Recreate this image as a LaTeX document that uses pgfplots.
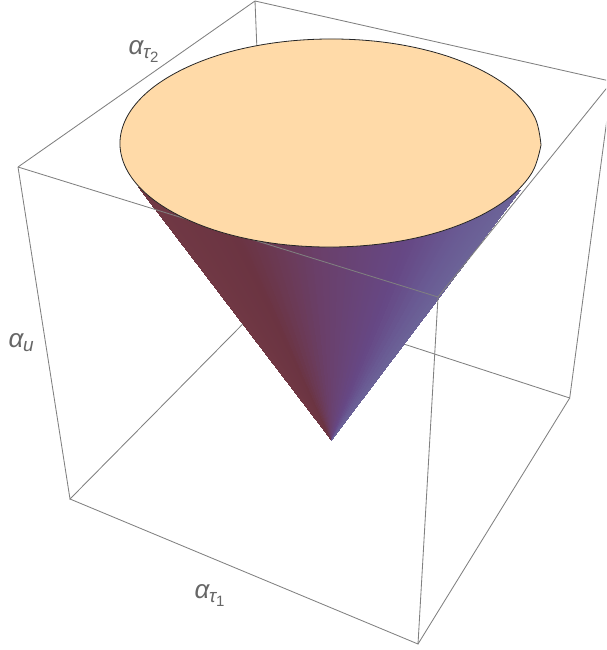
\documentclass[border=0pt]{standalone}
\usepackage{fontspec}
\setmainfont{Liberation Sans}
\usepackage{pgfplots}
\pgfplotsset{compat=1.18}
\definecolor{boxline}{HTML}{808080}
\definecolor{labelc}{HTML}{666666}
\definecolor{disk}{HTML}{FFDAA8}
\newcommand{\lab}[2]{{\fontsize{26}{26}\selectfont\itshape α\kern-0.5pt\raisebox{-4.5pt}{\fontsize{19}{19}\selectfont #1}\ifx&#2&\else\raisebox{-8pt}{\fontsize{15}{15}\selectfont\upshape #2}\fi}}
\begin{document}
\begin{tikzpicture}[x=1pt,y=1pt]
\path[use as bounding box] (0,0) rectangle (606,650);
\begin{axis}[at={(0,0)},anchor=south west,width=606pt,height=650pt,scale only axis,
  xmin=0,xmax=606,ymin=0,ymax=650,y dir=reverse,hide axis,clip=true,
  colormap={cone}{rgb255(0pt)=(112,56,68); rgb255(20pt)=(107,52,66); rgb255(32pt)=(107,58,85); rgb255(45pt)=(106,63,105); rgb255(76pt)=(102,72,133); rgb255(90pt)=(105,90,147); rgb255(100pt)=(108,100,152)},
  point meta min=0,point meta max=100]
% box edges behind the cone
\addplot[boxline,line width=0.85pt,mark=none] coordinates {(18,167) (255,1) (612,81.5) (569.7,398) (267,299.5) (255,1)};
\addplot[boxline,line width=0.85pt,mark=none] coordinates {(18,167) (70,499) (267,299.5)};
% cone surface
\addplot[patch,patch type=triangle,shader=interp,point meta=explicit] table[meta=c] {
x y c
330.7 440 1.6
138.4 187.0 0
150.3 187.1 3.1
330.7 440 4.7
150.3 187.1 3.1
162.3 187.2 6.3
330.7 440 7.8
162.3 187.2 6.3
174.2 187.3 9.4
330.7 440 10.9
174.2 187.3 9.4
186.2 187.4 12.5
330.7 440 14.1
186.2 187.4 12.5
198.1 187.5 15.6
330.7 440 17.2
198.1 187.5 15.6
210.0 187.6 18.8
330.7 440 20.3
210.0 187.6 18.8
222.0 187.7 21.9
330.7 440 23.4
222.0 187.7 21.9
233.9 187.8 25
330.7 440 26.6
233.9 187.8 25
245.9 187.9 28.1
330.7 440 29.7
245.9 187.9 28.1
257.8 188.0 31.3
330.7 440 32.8
257.8 188.0 31.3
269.7 188.1 34.4
330.7 440 35.9
269.7 188.1 34.4
281.7 188.2 37.5
330.7 440 39.1
281.7 188.2 37.5
293.6 188.3 40.6
330.7 440 42.2
293.6 188.3 40.6
305.6 188.4 43.8
330.7 440 45.3
305.6 188.4 43.8
317.5 188.5 46.9
330.7 440 48.4
317.5 188.5 46.9
329.4 188.5 50
330.7 440 51.6
329.4 188.5 50
341.3 188.6 53.1
330.7 440 54.7
341.3 188.6 53.1
353.3 188.7 56.3
330.7 440 57.8
353.3 188.7 56.3
365.2 188.8 59.4
330.7 440 60.9
365.2 188.8 59.4
377.2 188.9 62.5
330.7 440 64.1
377.2 188.9 62.5
389.1 189.0 65.6
330.7 440 67.2
389.1 189.0 65.6
401.1 189.1 68.8
330.7 440 70.3
401.1 189.1 68.8
413.0 189.2 71.9
330.7 440 73.4
413.0 189.2 71.9
424.9 189.3 75
330.7 440 76.6
424.9 189.3 75
436.9 189.4 78.1
330.7 440 79.7
436.9 189.4 78.1
448.8 189.5 81.3
330.7 440 82.8
448.8 189.5 81.3
460.8 189.6 84.4
330.7 440 85.9
460.8 189.6 84.4
472.7 189.7 87.5
330.7 440 89.1
472.7 189.7 87.5
484.6 189.8 90.6
330.7 440 92.2
484.6 189.8 90.6
496.6 189.9 93.8
330.7 440 95.3
496.6 189.9 93.8
508.5 190.0 96.9
330.7 440 98.4
508.5 190.0 96.9
520.4 190.1 100
};
% box edges in front of the cone
\addplot[boxline,line width=0.85pt,mark=none] coordinates {(18,167) (438,297) (612,81.5)};
\addplot[boxline,line width=0.85pt,mark=none] coordinates {(438,297) (418,644) (70,499)};
\addplot[boxline,line width=0.85pt,mark=none] coordinates {(418,644) (569.7,398)};
% top disk
\addplot[fill=disk,draw=black!85,line width=0.8pt,mark=none,smooth,tension=0.6] coordinates {
 (541,145) (535.1,118.0) (515.3,92.7) (482.8,70.9) (440.1,53.9) (389.8,43.0) (335.5,39)
 (280.8,42) (229.5,51.9) (185.2,68.1) (150.7,89.3) (128.5,114.2) (120,141)
 (125.9,168) (145.7,193.3) (178.2,215.1) (220.9,232.1) (271.2,243) (325.5,247)
 (380.2,244) (431.5,234.1) (475.8,217.9) (510.3,196.7) (532.5,171.8) (541,145)};
\node[anchor=base west,text=labelc,inner sep=0pt] at (axis cs:128.5,54.5) {\lab{τ}{2}};
\node[anchor=base west,text=labelc,inner sep=0pt] at (axis cs:8.5,347) {\lab{u}{}};
\node[anchor=base west,text=labelc,inner sep=0pt] at (axis cs:194.5,598) {\lab{τ}{1}};
\end{axis}
\end{tikzpicture}
\end{document}
